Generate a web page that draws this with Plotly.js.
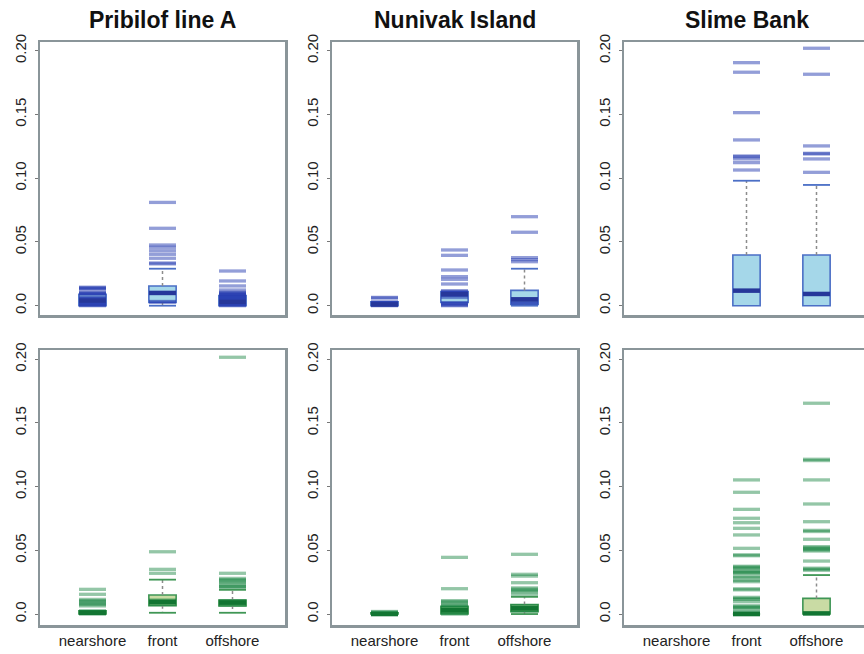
<!DOCTYPE html>
<html>
<head>
<meta charset="utf-8">
<script src="https://cdn.plot.ly/plotly-3.0.1.min.js"></script>
<style>html,body{margin:0;padding:0;overflow:hidden;background:#fff;}#chart{width:880px;height:654px;}</style>
</head>
<body>
<div id="chart"></div>
<script>
// ---------- data ----------
const categories = ['nearshore', 'front', 'offshore'];
const sites = ['Pribilof line A', 'Nunivak Island', 'Slime Bank'];
const yTickVals = [0, 0.05, 0.10, 0.15, 0.20];
const yTickText = ['0.0', '0.05', '0.10', '0.15', '0.20'];

// top row (blue) — indexed [site][category]; null = no data
const topQ1  = [[0, 0.0025, 0], [0, 0.0025, 0.001], [null, 0, 0]];
const topMed = [[0.004, 0.010, 0.003], [0.001, 0.009, 0.005], [null, 0.0118, 0.0092]];
const topQ3  = [[0.009, 0.0155, 0.008], [0.003, 0.011, 0.0120], [null, 0.0398, 0.0398]];
const topLo  = [[0, 0, 0], [0, 0.0025, 0], [null, 0, 0]];
const topHi  = [[0.009, 0.029, 0.008], [0.003, 0.011, 0.0290], [null, 0.098, 0.0947]];
const topPts = [
  [
    [0.0145, 0.0140, 0.0135, 0.0130, 0.0105, 0.0100, 0.0095, 0.0090, 0.0065, 0.0060, 0.0055, 0.0050, 0.0025, 0.0020, 0.0015, 0.0010, 0.0005, 0],
    [0.081, 0.0607, 0.0476, 0.0458, 0.0431, 0.0403, 0.0372, 0.0335, 0.0328, 0.0098, 0.0033, 0.0028],
    [0.0272, 0.0194, 0.0155, 0.0123, 0.0105, 0.0100, 0.0095, 0.0090, 0.0085, 0.0080, 0.0075, 0.0070, 0.0065, 0.0060, 0.0055, 0.0050, 0.0045, 0.0040, 0.0035, 0.0030, 0.0025, 0.0020, 0.0015, 0.0010, 0.0005, 0]
  ],
  [
    [0.0065, 0.006, 0.003, 0.0025, 0.002, 0.0015, 0.001, 0.0005, 0],
    [0.0437, 0.0395, 0.028, 0.0228, 0.0207, 0.017, 0.0118, 0.011, 0.0102, 0.0094, 0.0086, 0.0078, 0.0065, 0.0024, 0.0017, 0.001, 0.0004, 0],
    [0.0698, 0.0576, 0.0377, 0.0361, 0.0345, 0.0035, 0.0025, 0.0015]
  ],
  [
    [],
    [0.1906, 0.1831, 0.1514, 0.130, 0.1174, 0.1168, 0.1151, 0.1122, 0.1064],
    [0.2019, 0.1815, 0.1253, 0.1195, 0.119, 0.1151, 0.1046]
  ]
];

// bottom row (green)
const botQ1  = [[0, 0.0065, 0.0063], [0, 0, 0.0018], [null, 0, 0]];
const botMed = [[0.001, 0.0095, 0.009], [0, 0.003, 0.0045], [null, 0, 0.0005]];
const botQ3  = [[0.0025, 0.015, 0.011], [0.001, 0.006, 0.0075], [null, 0, 0.0123]];
const botLo  = [[0, 0.001, 0.001], [0, 0, 0], [null, 0, 0]];
const botHi  = [[0.0025, 0.027, 0.019], [0.001, 0.006, 0.0135], [null, 0, 0.0306]];
const botPts = [
  [
    [0.0194, 0.0155, 0.0115, 0.0105, 0.0095, 0.0085, 0.0075, 0.0064, 0.0025, 0.002, 0.0015, 0.001, 0.0005, 0],
    [0.0489, 0.0351, 0.032, 0.011, 0.0102, 0.0085, 0.0075],
    [0.2016, 0.032, 0.028, 0.027, 0.026, 0.025, 0.0235, 0.022, 0.0215, 0.0205, 0.0105, 0.0095, 0.008, 0.007]
  ],
  [
    [0.002, 0.0015, 0.001, 0.0005, 0],
    [0.0445, 0.0199, 0.0105, 0.0097, 0.0085, 0.0071, 0.006, 0.0045, 0.0032, 0.0018, 0.001, 0],
    [0.0469, 0.0312, 0.0298, 0.0246, 0.0205, 0.0195, 0.0185, 0.0175, 0.0155, 0.0065, 0.0055, 0.0035, 0.0025]
  ],
  [
    [],
    [0.1053, 0.0956, 0.0822, 0.0752, 0.0717, 0.0673, 0.0621, 0.0516, 0.0465, 0.0458, 0.0375, 0.0368, 0.036, 0.0345, 0.0332, 0.0325, 0.032, 0.0295, 0.0285, 0.0265, 0.0254, 0.0198, 0.019, 0.0131, 0.0122, 0.0115, 0.0097, 0.0065, 0.0057, 0.005, 0.004, 0.0018, 0.001, 0.0003, 0],
    [0.1655, 0.1215, 0.1205, 0.1053, 0.0864, 0.0725, 0.0657, 0.0648, 0.0587, 0.0529, 0.052, 0.0512, 0.0504, 0.0495, 0.0416, 0.036, 0.0352, 0.0344]
  ]
];

// ---------- styling / layout ----------
const W = 880, H = 654;
const colX = [[40, 285], [332, 577], [624, 869]];
const rowY = [[42, 315], [350, 625]];
const yRanges = [[-0.0073, 0.2068], [-0.0086, 0.2073]];
const styles = [
  {fill: '#a5d7e9', border: '#4b6fc6', med: '#26379a', pts: 'rgba(40,62,178,0.5)', cap: '#4b6fc6'},
  {fill: '#c9dba4', border: '#3f9655', med: '#127532', pts: 'rgba(18,128,60,0.45)', cap: '#3f9655'}
];
const rows = [
  {q1: topQ1, med: topMed, q3: topQ3, lo: topLo, hi: topHi, pts: topPts},
  {q1: botQ1, med: botMed, q3: botQ3, lo: botLo, hi: botHi, pts: botPts}
];

const traces = [];
const layout = {
  width: W, height: H, margin: {l: 0, r: 0, t: 0, b: 0},
  paper_bgcolor: '#fff', plot_bgcolor: '#fff', showlegend: false,
  font: {family: 'Liberation Sans, Arial, sans-serif', size: 15, color: '#222'},
  annotations: []
};

const BW = 0.39, MS = 19.3;

rows.forEach((R, r) => {
  const st = styles[r];
  sites.forEach((site, s) => {
    const k = r * 3 + s + 1;
    const xa = k === 1 ? 'x' : 'x' + k;
    const ya = k === 1 ? 'y' : 'y' + k;
    const xkey = k === 1 ? 'xaxis' : 'xaxis' + k;
    const ykey = k === 1 ? 'yaxis' : 'yaxis' + k;
    layout[xkey] = {
      domain: [colX[s][0] / W, colX[s][1] / W], anchor: ya,
      range: [0.25, 3.75], tickvals: [1, 2, 3], ticktext: categories,
      showticklabels: r === 1, ticks: '', showgrid: false, zeroline: false,
      showline: true, mirror: true, linecolor: '#8a9599', linewidth: 2.5,
      tickfont: {size: 15, color: '#222'}, fixedrange: true
    };
    layout[ykey] = {
      domain: [1 - rowY[r][1] / H, 1 - rowY[r][0] / H], anchor: xa,
      range: yRanges[r], tickvals: yTickVals, ticktext: yTickText, tickangle: -90,
      ticks: 'outside', ticklen: 3, tickwidth: 1, tickcolor: '#777',
      ticklabelstandoff: 3,
      showgrid: false, zeroline: false, showline: true, mirror: true,
      linecolor: '#8a9599', linewidth: 2.5, tickfont: {size: 15, color: '#222'}, fixedrange: true
    };
    const bx = [], bq1 = [], bm = [], bq3 = [];
    const wx = [], wy = [], cx = [], cy = [], px = [], py = [];
    categories.forEach((c, ci) => {
      if (R.q1[s][ci] === null) return;
      const xpos = ci + 1;
      bx.push(xpos); bq1.push(R.q1[s][ci]); bm.push(R.med[s][ci]); bq3.push(R.q3[s][ci]);
      if (R.hi[s][ci] > R.q3[s][ci]) {
        wx.push(xpos, xpos, null); wy.push(R.q3[s][ci], R.hi[s][ci], null);
        cx.push(xpos); cy.push(R.hi[s][ci]);
      }
      if (R.lo[s][ci] < R.q1[s][ci]) {
        wx.push(xpos, xpos, null); wy.push(R.q1[s][ci], R.lo[s][ci], null);
        cx.push(xpos); cy.push(R.lo[s][ci]);
      }
      R.pts[s][ci].forEach(v => { px.push(xpos); py.push(v); });
    });
    traces.push({
      type: 'box', x: bx, q1: bq1, median: bm, q3: bq3, lowerfence: bq1, upperfence: bq3,
      width: BW, fillcolor: st.fill, line: {color: st.border, width: 1.6}, whiskerwidth: 0,
      boxpoints: false, hoverinfo: 'skip', xaxis: xa, yaxis: ya
    });
    traces.push({
      type: 'scatter', mode: 'lines', x: wx, y: wy, xaxis: xa, yaxis: ya, hoverinfo: 'skip',
      line: {color: '#8c8c8c', width: 1.5, dash: 'dot'}, connectgaps: false
    });
    traces.push({
      type: 'scatter', mode: 'markers', x: px, y: py, xaxis: xa, yaxis: ya, hoverinfo: 'skip',
      marker: {symbol: 'line-ew', size: MS, color: st.pts, line: {color: st.pts, width: 3.3}}
    });
    traces.push({
      type: 'scatter', mode: 'markers', x: cx, y: cy, xaxis: xa, yaxis: ya, hoverinfo: 'skip',
      marker: {symbol: 'line-ew', size: MS, color: st.cap, line: {color: st.cap, width: 1.8}}
    });
    traces.push({
      type: 'scatter', mode: 'markers', x: bx, y: bm, xaxis: xa, yaxis: ya, hoverinfo: 'skip',
      marker: {symbol: 'line-ew', size: MS, color: st.med, line: {color: st.med, width: 4.5}}
    });
    if (r === 0) {
      layout.annotations.push({
        text: site, xref: 'paper', yref: 'paper',
        x: (colX[s][0] + colX[s][1]) / 2 / W, y: 1 - 20 / H,
        xanchor: 'center', yanchor: 'middle', showarrow: false,
        font: {family: 'Liberation Sans, Arial, sans-serif', size: 23, color: '#111', weight: 'bold'}
      });
    }
  });
});

Plotly.newPlot('chart', traces, layout, {displayModeBar: false, staticPlot: true});
</script>
</body>
</html>
